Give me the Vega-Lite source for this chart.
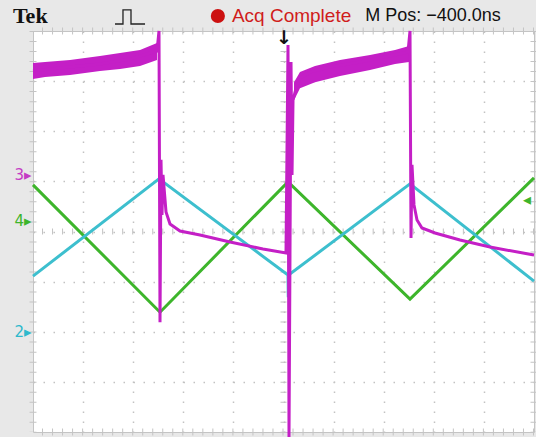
{
  "$schema": "https://vega.github.io/schema/vega-lite/v6.json",
  "width": 501,
  "height": 401,
  "autosize": {"type": "none"},
  "padding": {"left": 33, "top": 31, "right": 2, "bottom": 5},
  "background": "#e8e8e8",
  "config": {"view": {"fill": "#ffffff", "stroke": "#c4c4c4", "strokeWidth": 1}},
  "datasets": {
    "green": [{"t":0,"v":0.93},{"t":2.535,"v":-1.61},{"t":5.09,"v":0.99},{"t":7.525,"v":-1.35},{"t":10,"v":1.07}],
    "cyan": [{"t":0,"v":-0.89},{"t":2.515,"v":1.05},{"t":5.09,"v":-0.87},{"t":5.095,"v":-1.31},{"t":5.1,"v":-0.87},{"t":7.525,"v":0.95},{"t":10,"v":-0.99}],
    "magenta": [
      {"t":0,"v":3.2},{"t":0.539,"v":3.26},{"t":1.337,"v":3.34},{"t":1.936,"v":3.44},{"t":2.475,"v":3.6},{"t":2.515,"v":4.0},
      {"t":2.535,"v":-1.81},{"t":2.555,"v":1.43},{"t":2.575,"v":0.33},{"t":2.595,"v":1.13},{"t":2.655,"v":0.39},{"t":2.735,"v":0.15},
      {"t":2.934,"v":0.01},{"t":3.333,"v":-0.07},{"t":3.932,"v":-0.21},{"t":4.591,"v":-0.35},{"t":5.05,"v":-0.43},{"t":5.09,"v":3.72},
      {"t":5.11,"v":-4.1},{"t":5.15,"v":3.38},{"t":5.17,"v":1.13},{"t":5.19,"v":2.62},{"t":5.25,"v":2.86},{"t":5.329,"v":3.06},
      {"t":5.529,"v":3.18},{"t":5.928,"v":3.28},{"t":6.527,"v":3.38},{"t":7.126,"v":3.5},{"t":7.485,"v":3.58},{"t":7.525,"v":4.0},
      {"t":7.545,"v":-0.13},{"t":7.565,"v":1.33},{"t":7.605,"v":0.53},{"t":7.665,"v":0.23},{"t":7.764,"v":0.07},{"t":8.024,"v":-0.03},
      {"t":8.523,"v":-0.17},{"t":9.122,"v":-0.31},{"t":10,"v":-0.47}
    ],
    "band": [
      {"seg":"a","t":0,"hi":3.36,"lo":3.04},{"seg":"a","t":0.24,"hi":3.38,"lo":3.08},{"seg":"a","t":0.739,"hi":3.42,"lo":3.12},
      {"seg":"a","t":1.337,"hi":3.5,"lo":3.2},{"seg":"a","t":1.737,"hi":3.56,"lo":3.24},{"seg":"a","t":2.136,"hi":3.62,"lo":3.3},
      {"seg":"a","t":2.475,"hi":3.76,"lo":3.42},
      {"seg":"b","t":5.21,"hi":2.98,"lo":2.62},{"seg":"b","t":5.329,"hi":3.18,"lo":2.86},{"seg":"b","t":5.629,"hi":3.3,"lo":2.98},
      {"seg":"b","t":6.128,"hi":3.42,"lo":3.1},{"seg":"b","t":6.727,"hi":3.52,"lo":3.22},{"seg":"b","t":7.226,"hi":3.62,"lo":3.34},
      {"seg":"b","t":7.505,"hi":3.7,"lo":3.38}
    ],
    "chlabels": [{"t":-0.03,"v":1.13,"ch":"3","label":"3▸"},{"t":-0.03,"v":0.21,"ch":"4","label":"4▸"},{"t":-0.03,"v":-2.0,"ch":"2","label":"2▸"}],
    "pulse": [{"i":1,"t":1.637,"v":4.14},{"i":2,"t":1.796,"v":4.14},{"i":3,"t":1.796,"v":4.42},{"i":4,"t":1.956,"v":4.42},{"i":5,"t":1.956,"v":4.14},{"i":6,"t":2.236,"v":4.14}]
  },
  "layer": [
    {
      "data": {"values": [{"t":5}]},
      "mark": {"type": "rule", "color": "#c2c2c2", "strokeWidth": 6, "strokeDash": [1, 9.02]},
      "encoding": {
        "x": {"field": "t", "type": "quantitative", "scale": {"domain": [0, 10], "nice": false, "zero": false},
          "axis": {"values": [1,2,3,4,5,6,7,8,9], "grid": true, "gridDash": [1.5, 8.5], "gridColor": "#c2c2c2", "gridWidth": 1.5, "labels": false, "ticks": false, "domain": false, "title": null}}
      }
    },
    {
      "data": {"values": [{"v":0}]},
      "mark": {"type": "rule", "color": "#c2c2c2", "strokeWidth": 6, "strokeDash": [1, 9.02]},
      "encoding": {
        "y": {"field": "v", "type": "quantitative", "scale": {"domain": [-4, 4], "nice": false, "zero": false},
          "axis": {"values": [-3,-2,-1,0,1,2,3], "grid": true, "gridDash": [1.5, 8.5], "gridColor": "#c2c2c2", "gridWidth": 1.5, "labels": false, "ticks": false, "domain": false, "title": null}}
      }
    },
    {
      "data": {"values": [{"t":0},{"t":10}]},
      "mark": {"type": "rule", "color": "#c4c4c4", "strokeWidth": 7, "strokeDash": [1, 9.02]},
      "encoding": {"x": {"field": "t", "type": "quantitative"}}
    },
    {
      "data": {"values": [{"v":-4},{"v":4}]},
      "mark": {"type": "rule", "color": "#c4c4c4", "strokeWidth": 7, "strokeDash": [1, 9.02]},
      "encoding": {"y": {"field": "v", "type": "quantitative"}}
    },
    {
      "data": {"name": "green"},
      "mark": {"type": "line", "color": "#3db52b", "strokeWidth": 3},
      "encoding": {"x": {"field": "t", "type": "quantitative"}, "y": {"field": "v", "type": "quantitative"}}
    },
    {
      "data": {"name": "cyan"},
      "mark": {"type": "line", "color": "#3dbfce", "strokeWidth": 3},
      "encoding": {"x": {"field": "t", "type": "quantitative"}, "y": {"field": "v", "type": "quantitative"}}
    },
    {
      "data": {"name": "band"},
      "mark": {"type": "area", "color": "#c41fc6", "opacity": 1},
      "encoding": {"x": {"field": "t", "type": "quantitative"}, "y": {"field": "hi", "type": "quantitative"}, "y2": {"field": "lo"}, "detail": {"field": "seg"}}
    },
    {
      "data": {"name": "magenta"},
      "mark": {"type": "line", "color": "#c41fc6", "strokeWidth": 3},
      "encoding": {"x": {"field": "t", "type": "quantitative"}, "y": {"field": "v", "type": "quantitative"}}
    },
    {
      "data": {"name": "chlabels"},
      "mark": {"type": "text", "align": "right", "baseline": "middle", "fontSize": 15, "font": "DejaVu Sans"},
      "encoding": {"x": {"field": "t", "type": "quantitative"}, "y": {"field": "v", "type": "quantitative"}, "text": {"field": "label"},
        "color": {"field": "ch", "type": "nominal", "scale": {"domain": ["2","3","4"], "range": ["#2fb9cc", "#c43cc4", "#3db52b"]}, "legend": null}}
    },
    {
      "data": {"values": [{"t":9.86,"v":0.63,"label":"◂"}]},
      "mark": {"type": "text", "align": "center", "baseline": "middle", "fontSize": 16, "color": "#3db52b", "font": "DejaVu Sans"},
      "encoding": {"x": {"field": "t", "type": "quantitative"}, "y": {"field": "v", "type": "quantitative"}, "text": {"field": "label"}}
    },
    {
      "data": {"values": [{"t":5.01,"v":3.86,"label":"↓"}]},
      "mark": {"type": "text", "align": "center", "baseline": "middle", "fontSize": 19, "fontWeight": "bold", "color": "#111111", "font": "DejaVu Sans"},
      "encoding": {"x": {"field": "t", "type": "quantitative"}, "y": {"field": "v", "type": "quantitative"}, "text": {"field": "label"}}
    },
    {
      "data": {"values": [{"t":-0.4,"v":4.3,"label":"Tek"}]},
      "mark": {"type": "text", "align": "left", "baseline": "middle", "fontSize": 22, "fontWeight": "bold", "color": "#111111", "font": "Liberation Serif"},
      "encoding": {"x": {"field": "t", "type": "quantitative"}, "y": {"field": "v", "type": "quantitative"}, "text": {"field": "label"}}
    },
    {
      "data": {"name": "pulse"},
      "mark": {"type": "line", "color": "#222222", "strokeWidth": 1.3},
      "encoding": {"x": {"field": "t", "type": "quantitative"}, "y": {"field": "v", "type": "quantitative"}, "order": {"field": "i"}}
    },
    {
      "data": {"values": [{"t":3.69,"v":4.3}]},
      "mark": {"type": "point", "shape": "circle", "filled": true, "size": 200, "color": "#cc1111", "opacity": 1},
      "encoding": {"x": {"field": "t", "type": "quantitative"}, "y": {"field": "v", "type": "quantitative"}}
    },
    {
      "data": {"values": [{"t":3.97,"v":4.3,"label":"Acq Complete"}]},
      "mark": {"type": "text", "align": "left", "baseline": "middle", "fontSize": 19, "color": "#d01c1c", "font": "Liberation Sans"},
      "encoding": {"x": {"field": "t", "type": "quantitative"}, "y": {"field": "v", "type": "quantitative"}, "text": {"field": "label"}}
    },
    {
      "data": {"values": [{"t":6.63,"v":4.3,"label":"M Pos: −400.0ns"}]},
      "mark": {"type": "text", "align": "left", "baseline": "middle", "fontSize": 18, "color": "#111111", "font": "Liberation Sans"},
      "encoding": {"x": {"field": "t", "type": "quantitative"}, "y": {"field": "v", "type": "quantitative"}, "text": {"field": "label"}}
    }
  ]
}
